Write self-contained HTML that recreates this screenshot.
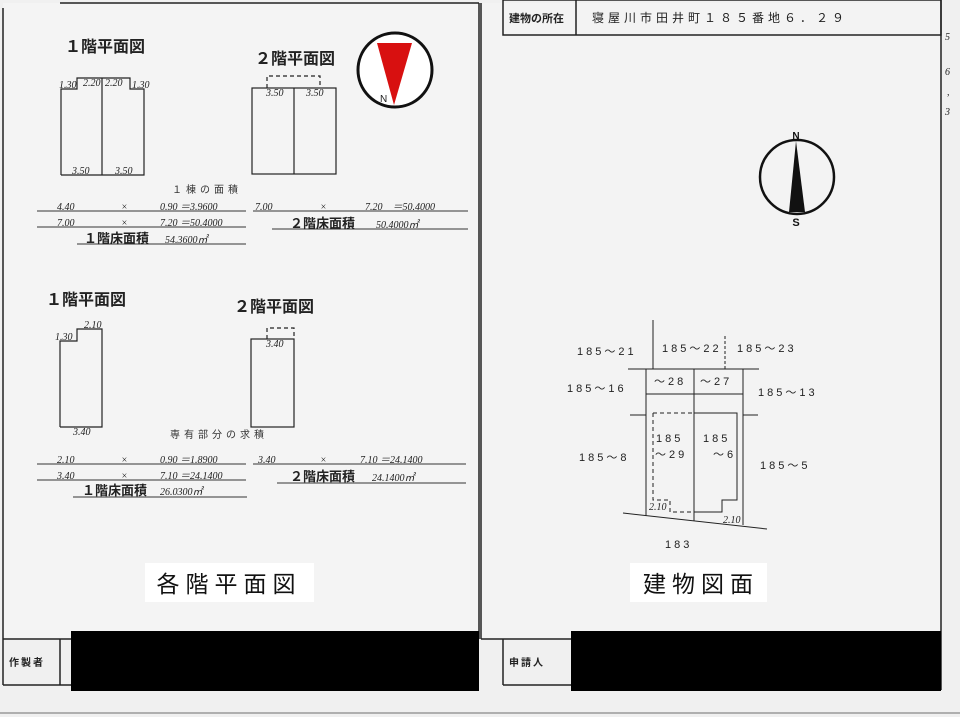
<!DOCTYPE html>
<html><head><meta charset="utf-8"><style>
html,body{margin:0;padding:0;background:#f1f1f1;}
svg{display:block;}
.t{font-family:"Liberation Sans","Noto Sans CJK JP",sans-serif;}
.h{font-family:"Liberation Serif","Noto Sans CJK JP",serif;font-style:italic;font-size:10px;fill:#222;}
</style></head><body>
<svg width="960" height="717" viewBox="0 0 960 717" xmlns="http://www.w3.org/2000/svg">
<rect width="960" height="717" fill="#f0f0f0"/>
<rect x="3" y="3" width="476" height="636" fill="#f4f4f4"/>
<rect x="481" y="3" width="460" height="636" fill="#f3f3f3"/>
<!-- page frames -->
<g stroke="#222" fill="none" stroke-width="1.5">
<line x1="60" y1="3" x2="479" y2="3"/>
<line x1="3" y1="8" x2="3" y2="685"/>
<line x1="479" y1="3" x2="479" y2="639"/>
<line x1="3" y1="639" x2="71" y2="639"/>
<line x1="3" y1="685" x2="71" y2="685"/>
<line x1="60" y1="639" x2="60" y2="685"/>
<line x1="481" y1="3" x2="481" y2="639"/>
<line x1="481" y1="639" x2="503" y2="639"/>
<line x1="503" y1="639" x2="503" y2="685"/>
<line x1="503" y1="685" x2="571" y2="685"/>
<line x1="503" y1="639" x2="571" y2="639"/>
<line x1="941" y1="0" x2="941" y2="690"/>
<rect x="503" y="0" width="438" height="35"/>
<line x1="576" y1="0" x2="576" y2="35"/>
<line x1="0" y1="713" x2="960" y2="713" stroke="#999"/>
</g>
<text x="509" y="22" class="t" font-size="11" font-weight="bold" fill="#222">建物の所在</text>
<text x="592" y="22" class="t" font-size="12" fill="#222" letter-spacing="4">寝屋川市田井町１８５番地６．２９</text>
<text x="945" y="40" class="h" font-size="16">5</text>
<text x="945" y="75" class="h" font-size="16">6</text>
<text x="947" y="95" class="h" font-size="16">,</text>
<text x="945" y="115" class="h" font-size="16">3</text>

<!-- upper left set -->
<text x="65" y="52" class="t" font-size="16" font-weight="bold" fill="#222">１階平面図</text>
<text x="255" y="64" class="t" font-size="16" font-weight="bold" fill="#222">２階平面図</text>
<g stroke="#222" fill="none" stroke-width="1.2">
<polyline points="61,175 61,89 77,89 77,78 130,78 130,89 144,89 144,175 61,175"/>
<line x1="102" y1="78" x2="102" y2="175"/>
<rect x="252" y="88" width="84" height="86"/>
<line x1="294" y1="88" x2="294" y2="174"/>
<polyline points="267,88 267,76 320,76 320,88" stroke-dasharray="4,3"/>
</g>
<g class="h"><text x="59" y="88" class="h" font-size="8">1.30</text><text x="83" y="86" class="h" font-size="8">2.20</text><text x="105" y="86" class="h" font-size="8">2.20</text><text x="132" y="88" class="h" font-size="8">1.30</text>
<text x="72" y="174" class="h" font-size="8">3.50</text><text x="115" y="174" class="h" font-size="8">3.50</text>
<text x="266" y="96" class="h" font-size="8">3.50</text><text x="306" y="96" class="h" font-size="8">3.50</text></g>
<circle cx="395" cy="70" r="37" fill="#fff" stroke="#111" stroke-width="3"/>
<polygon points="377,43 412,43 394,105" fill="#d81010"/>
<text x="380" y="102" class="t" font-size="10" fill="#222">N</text>
<text x="172" y="193" class="t" font-size="10" fill="#333" letter-spacing="4">１棟の面積</text>
<g stroke="#333" stroke-width="1">
<line x1="37" y1="211" x2="246" y2="211"/><line x1="253" y1="211" x2="468" y2="211"/>
<line x1="37" y1="227" x2="246" y2="227"/><line x1="272" y1="229" x2="468" y2="229"/>
<line x1="77" y1="244" x2="246" y2="244"/>
<line x1="37" y1="464" x2="246" y2="464"/><line x1="253" y1="464" x2="466" y2="464"/>
<line x1="37" y1="480" x2="246" y2="480"/><line x1="277" y1="483" x2="466" y2="483"/>
<line x1="73" y1="497" x2="247" y2="497"/>
</g>
<text x="57" y="210" class="h">4.40</text><text x="121" y="210" class="h">×</text><text x="160" y="210" class="h">0.90 ＝3.9600</text>
<text x="255" y="210" class="h">7.00</text><text x="320" y="210" class="h">×</text><text x="365" y="210" class="h">7.20　＝50.4000</text>
<text x="57" y="226" class="h">7.00</text><text x="121" y="226" class="h">×</text><text x="160" y="226" class="h">7.20 ＝50.4000</text>
<text x="290" y="228" class="t" font-size="13" font-weight="bold" fill="#222">２階床面積</text><text x="376" y="228" class="h">50.4000㎡</text>
<text x="84" y="243" class="t" font-size="13" font-weight="bold" fill="#222">１階床面積</text><text x="165" y="243" class="h">54.3600㎡</text>

<!-- lower left set -->
<text x="46" y="305" class="t" font-size="16" font-weight="bold" fill="#222">１階平面図</text>
<text x="234" y="312" class="t" font-size="16" font-weight="bold" fill="#222">２階平面図</text>
<g stroke="#222" fill="none" stroke-width="1.2">
<polyline points="60,427 60,341 77,341 77,329 102,329 102,427 60,427"/>
<rect x="251" y="339" width="43" height="88"/>
<polyline points="267,339 267,328 294,328 294,339" stroke-dasharray="4,3"/>
</g>
<text x="55" y="340" class="h" font-size="8">1.30</text><text x="84" y="328" class="h" font-size="8">2.10</text>
<text x="73" y="435" class="h" font-size="8">3.40</text><text x="266" y="347" class="h" font-size="8">3.40</text>
<text x="170" y="438" class="t" font-size="10" fill="#333" letter-spacing="4">専有部分の求積</text>
<text x="57" y="463" class="h">2.10</text><text x="121" y="463" class="h">×</text><text x="160" y="463" class="h">0.90 ＝1.8900</text>
<text x="258" y="463" class="h">3.40</text><text x="320" y="463" class="h">×</text><text x="360" y="463" class="h">7.10 ＝24.1400</text>
<text x="57" y="479" class="h">3.40</text><text x="121" y="479" class="h">×</text><text x="160" y="479" class="h">7.10 ＝24.1400</text>
<text x="290" y="481" class="t" font-size="13" font-weight="bold" fill="#222">２階床面積</text><text x="372" y="481" class="h">24.1400㎡</text>
<text x="82" y="495" class="t" font-size="13" font-weight="bold" fill="#222">１階床面積</text><text x="160" y="495" class="h">26.0300㎡</text>

<rect x="145" y="563" width="169" height="39" fill="#fff"/>
<text x="229" y="592" text-anchor="middle" class="t" font-size="23" fill="#111" letter-spacing="6">各階平面図</text>
<rect x="630" y="563" width="137" height="39" fill="#fff"/>
<text x="701" y="592" text-anchor="middle" class="t" font-size="23" fill="#111" letter-spacing="6">建物図面</text>

<!-- right compass -->
<circle cx="797" cy="177" r="37" fill="none" stroke="#111" stroke-width="2.5"/>
<polygon points="796,141 789,212 805,212" fill="#111"/>
<text x="796" y="139" text-anchor="middle" class="t" font-size="10" font-weight="bold" fill="#111">N</text>
<text x="796" y="226" text-anchor="middle" class="t" font-size="11" font-weight="bold" fill="#111">S</text>

<!-- site map -->
<g stroke="#222" fill="none" stroke-width="1">
<line x1="653" y1="320" x2="653" y2="369"/>
<line x1="725" y1="336" x2="725" y2="369" stroke-dasharray="3,2"/>
<line x1="628" y1="369" x2="759" y2="369"/>
<line x1="646" y1="369" x2="646" y2="516"/>
<line x1="694" y1="369" x2="694" y2="521"/>
<line x1="743" y1="369" x2="743" y2="525"/>
<line x1="646" y1="394" x2="743" y2="394"/>
<line x1="630" y1="415" x2="646" y2="415"/>
<line x1="743" y1="415" x2="758" y2="415"/>
<polyline points="694,413 737,413 737,500 722,500 722,512 694,512"/>
<polyline points="653,413 694,413" stroke-dasharray="4,3"/>
<polyline points="653,413 653,500 670,500 670,512 694,512" stroke-dasharray="4,3"/>
<line x1="623" y1="513" x2="767" y2="529"/>
</g>
<g class="t" font-size="11" fill="#222" letter-spacing="3">
<text x="577" y="355">185～21</text>
<text x="662" y="352">185～22</text>
<text x="737" y="352">185～23</text>
<text x="567" y="392">185～16</text>
<text x="654" y="385">～28</text>
<text x="700" y="385">～27</text>
<text x="758" y="396">185～13</text>
<text x="656" y="442">185</text>
<text x="655" y="458">～29</text>
<text x="703" y="442">185</text>
<text x="713" y="458">～6</text>
<text x="579" y="461">185～8</text>
<text x="760" y="469">185～5</text>
<text x="665" y="548">183</text>
</g>
<text x="649" y="510" class="h" font-size="8">2.10</text>
<text x="723" y="523" class="h" font-size="8">2.10</text>

<rect x="71" y="631" width="408" height="60" fill="#000"/>
<rect x="571" y="631" width="370" height="60" fill="#000"/>
<text x="9" y="666" class="t" font-size="10" font-weight="bold" fill="#222" letter-spacing="2">作製者</text>
<text x="509" y="666" class="t" font-size="10" font-weight="bold" fill="#222" letter-spacing="2">申請人</text>
</svg>
</body></html>
